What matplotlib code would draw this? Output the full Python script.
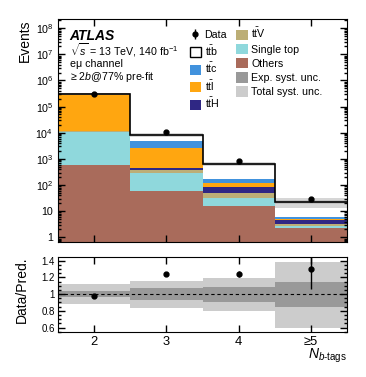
import matplotlib
matplotlib.use('Agg')
import matplotlib.pyplot as plt
import numpy as np
from matplotlib.patches import Patch
from matplotlib.ticker import FuncFormatter, LogLocator, MultipleLocator, NullLocator, FixedLocator

plt.rcParams['font.family'] = ['Liberation Sans', 'DejaVu Sans']
plt.rcParams['mathtext.fontset'] = 'custom'
plt.rcParams['mathtext.rm'] = 'Liberation Sans'
plt.rcParams['mathtext.it'] = 'Liberation Sans:italic'
plt.rcParams['mathtext.bf'] = 'Liberation Sans:bold'

# b-tag multiplicity bins
nbtags = [2, 3, 4, 5]
nbtag_labels = ['2', '3', '4', '≥5']

# predicted yields per sample
others = [590, 61, 16, 2.2]
single_top = [10500, 223, 15, 0.4]
ttV = [150, 96, 18, 0.5]
ttH = [80, 60, 38, 1.5]
ttl = [280000, 2260, 30, 0.4]
ttc = [13000, 2200, 54, 1.0]
ttb = [3500, 3600, 474, 17]

data = [300000, 10500, 800, 30]
data_err = [550, 100, 22, 5.6]

# relative uncertainties on the prediction
exp_up = [0.036, 0.07, 0.085, 0.145]
exp_dn = [0.036, 0.075, 0.095, 0.155]
tot_up = [0.12, 0.16, 0.19, 0.38]
tot_dn = [0.12, 0.17, 0.20, 0.40]

colors = {
    'ttb': 'white', 'ttc': '#4192dd', 'ttl': '#ffa610', 'ttH': '#2f2784',
    'ttV': '#bcae76', 'st': '#8fd8dc', 'others': '#a96b5b',
    'exp': '#999999', 'tot': '#cccccc',
}

x = np.array(nbtags)
edges = np.append(x - 0.5, x[-1] + 0.5)

fig = plt.figure(figsize=(3.66, 3.77), dpi=100)
ax = fig.add_axes([0.159, 0.358, 0.789, 0.591])
ax2 = fig.add_axes([0.159, 0.120, 0.789, 0.1975])

stack = [
    (others, colors['others']),
    (single_top, colors['st']),
    (ttV, colors['ttV']),
    (ttH, colors['ttH']),
    (ttl, colors['ttl']),
    (ttc, colors['ttc']),
    (ttb, colors['ttb']),
]
bottom = np.full(len(x), 1e-3)
for vals, c in stack:
    ax.bar(x, vals, width=1.0, bottom=bottom, color=c, linewidth=0)
    bottom = bottom + np.array(vals)
total = bottom - 1e-3

tot_lo = total * (1 - np.array(tot_dn))
tot_hi = total * (1 + np.array(tot_up))
exp_lo = total * (1 - np.array(exp_dn))
exp_hi = total * (1 + np.array(exp_up))
ax.bar(x, tot_hi - tot_lo, bottom=tot_lo, width=1.0, color=colors['tot'], alpha=0.8, linewidth=0)
ax.bar(x, exp_hi - exp_lo, bottom=exp_lo, width=1.0, color=colors['exp'], alpha=0.35, linewidth=0)
ax.stairs(total, edges, color='k', lw=1.2, baseline=None)

dat = ax.errorbar(x, data, yerr=data_err, fmt='o', color='k', ms=3.5, lw=1, capsize=0)

ax.set_yscale('log')
ax.set_xlim(1.5, 5.5)
ax.set_ylim(0.66, 2.2e8)
ax.xaxis.set_major_locator(FixedLocator(nbtags))
ax.xaxis.set_minor_locator(NullLocator())
ax.set_xticklabels([])
ax.yaxis.set_major_locator(LogLocator(base=10, numticks=20))
ax.yaxis.set_minor_locator(LogLocator(base=10, subs=np.arange(2, 10), numticks=20))


def log_fmt(v, pos):
    if v <= 1.01:
        return '1'
    if v < 11:
        return '10'
    return r'$10^{%d}$' % int(round(np.log10(v)))


ax.yaxis.set_major_formatter(FuncFormatter(log_fmt))
ax.tick_params(which='both', direction='in', top=True, right=True, width=1)
ax.tick_params(which='major', length=5, labelsize=7.7)
ax.tick_params(which='minor', length=2.5)
ax.set_ylabel('Events', loc='top', fontsize=10)
ax.yaxis.set_label_coords(-0.092, 1.0)

ax.text(0.04, 0.906, 'ATLAS', transform=ax.transAxes, fontsize=10, fontweight='bold', fontstyle='italic')
ax.text(0.04, 0.838, r'$\sqrt{s}$ = 13 TeV, 140 fb$^{-1}$', transform=ax.transAxes, fontsize=7.7)
ax.text(0.04, 0.786, 'eμ channel', transform=ax.transAxes, fontsize=7.7)
ax.text(0.04, 0.727, '≥ 2$b$@77% pre-fit', transform=ax.transAxes, fontsize=7.7)

handles = [
    dat,
    Patch(facecolor=colors['ttb'], edgecolor='k', lw=1),
    Patch(facecolor=colors['ttc']),
    Patch(facecolor=colors['ttl']),
    Patch(facecolor=colors['ttH']),
    Patch(facecolor=colors['ttV']),
    Patch(facecolor=colors['st']),
    Patch(facecolor=colors['others']),
    Patch(facecolor=colors['exp']),
    Patch(facecolor=colors['tot']),
]
labels = [
    'Data', r'$\mathrm{t\bar{t}b}$', r'$\mathrm{t\bar{t}c}$', r'$\mathrm{t\bar{t}l}$', r'$\mathrm{t\bar{t}H}$',
    r'$\mathrm{t\bar{t}V}$', 'Single top', 'Others', 'Exp. syst. unc.', 'Total syst. unc.',
]
ax.legend(handles, labels, ncol=2, loc='upper left', bbox_to_anchor=(0.455, 0.968),
          frameon=False, fontsize=7.7, borderpad=0, borderaxespad=0,
          handlelength=1.1, handleheight=1.1, handletextpad=0.3,
          labelspacing=0.32, columnspacing=0.85)

# ratio panel
ratio = np.array(data) / total
ratio_err = np.array(data_err) / total
ax2.bar(x, np.array(tot_up) + np.array(tot_dn), bottom=1 - np.array(tot_dn), width=1.0,
        color=colors['tot'], linewidth=0)
ax2.bar(x, np.array(exp_up) + np.array(exp_dn), bottom=1 - np.array(exp_dn), width=1.0,
        color=colors['exp'], linewidth=0)
ax2.axhline(1, color='k', lw=0.8, ls=(0, (3, 2.5)))
ax2.errorbar(x, ratio, yerr=ratio_err, fmt='o', color='k', ms=3.5, lw=1, capsize=0)

ax2.set_xlim(1.5, 5.5)
ax2.set_ylim(0.55, 1.44)
ax2.xaxis.set_major_locator(FixedLocator(nbtags))
ax2.xaxis.set_minor_locator(NullLocator())
ax2.set_xticklabels(nbtag_labels)
ax2.yaxis.set_major_locator(MultipleLocator(0.2))
ax2.yaxis.set_minor_locator(MultipleLocator(0.05))
ax2.yaxis.set_major_formatter(FuncFormatter(lambda v, p: '1' if abs(v - 1) < 1e-6 else '%.1f' % v))
ax2.tick_params(which='both', direction='in', top=True, right=True, width=1)
ax2.tick_params(which='major', length=5)
ax2.tick_params(which='minor', length=2.5)
ax2.tick_params(axis='y', labelsize=7, pad=2.5)
ax2.tick_params(axis='x', labelsize=9.3, pad=3)
ax2.set_ylabel('Data/Pred.', fontsize=10)
ax2.yaxis.set_label_coords(-0.1, 0.56)
ax2.set_xlabel(r'$N_{b\text{-tags}}$', loc='right', fontsize=10)
ax2.xaxis.set_label_coords(1.0, -0.205)

fig.savefig('out.png', dpi=100)
